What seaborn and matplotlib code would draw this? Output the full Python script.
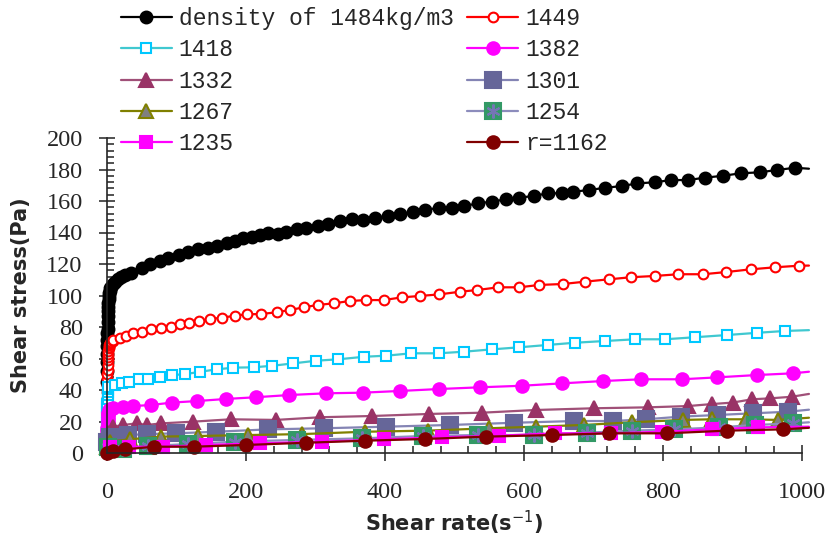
import matplotlib
matplotlib.use('Agg')
import matplotlib.pyplot as plt
import seaborn as sns
from matplotlib.ticker import MultipleLocator
from matplotlib.legend_handler import HandlerTuple

# Data (shear rate in 1/s, shear stress in Pa)
# last point of every list only carries the line, no marker
x_1484 = [0.1, 0.2, 0.3, 0.4, 0.5, 0.6, 0.7, 0.8, 1, 1.2, 1.4, 1.7, 2, 2.5, 3, 3.5, 4, 5, 6, 8,
          11, 16, 20, 26, 35, 50, 62, 76, 88, 103, 117, 131, 146, 158, 172, 184,
          196, 208, 220, 232, 246, 258, 273, 287, 304, 318, 335, 352, 369, 386, 405, 422, 441, 458, 477, 496,
          513, 534, 554, 574, 593, 614, 634, 654, 671, 694, 717, 741, 763, 789, 811, 836, 860, 886, 912, 939,
          964, 990, 1010]
y_1484 = [45, 52, 58, 63, 68, 72, 76, 79, 83, 87, 90, 93, 95, 98, 100, 101.5, 103, 104.5, 105.5, 107,
          108.8, 110.5, 112, 113, 114.5, 117.3, 119.8, 121.9, 123.6, 125.7,
          127.8, 129.5, 130.4, 131.6, 133.1, 134.6, 136.3, 137.3, 138.4, 139.5, 138.9, 140.5, 142, 143, 144.1,
          145.4, 147.3, 148.4, 147.9, 149.4, 150.5, 151.7, 153.2, 154.3, 155.7, 155.7, 156.8, 158.5, 159.6,
          161.1, 162.1, 163.2, 164.9, 164.9, 165.9, 167, 168.4, 169.5, 171.2, 171.9, 173.3, 173.3, 174.8, 176,
          177.6, 178.2, 179.7, 181.1, 180.5]

x_1449 = [0.1, 0.2, 0.3, 0.4, 0.5, 0.6, 0.7, 0.8, 1, 1.2, 1.4, 1.7, 2, 2.5, 3, 3.5, 4, 5, 6, 8,
          9, 18.7, 28, 38, 51, 64, 77.7, 91.5, 105, 118, 133, 148, 166, 184, 201,
          222, 244, 263, 283.5, 303, 326, 349, 373, 398, 424, 450, 478, 508, 533, 563, 593, 622, 656, 688, 723,
          754, 788, 822, 858, 891, 926, 961, 995, 1010]
y_1449 = [25, 30, 35, 39, 43, 47, 50, 53, 56, 59, 61, 63, 65, 66.5, 67.5, 68.5, 69.2, 70, 70.6, 71.2,
          71.7, 73.2, 74.5, 76, 77, 78.5, 79.6, 80.2, 81.7, 82.7, 83.8, 85.1,
          85.9, 87.2, 88, 88.3, 89.3, 90.8, 92.5, 94, 95, 96.5, 97.1, 97.1, 98.8, 99.7, 100.7, 102.4, 103.5,
          105.2, 105.2, 106.7, 107.3, 108.8, 110.3, 111.6, 112.4, 113.5, 113.5, 114.9, 116.6, 117.9, 118.9, 119]

x_1418 = [0.1, 0.2, 0.3, 0.4, 0.5, 0.6, 0.8, 1, 1.3, 1.6, 2, 11.5, 21, 31, 46, 59, 76, 93, 112, 134, 158, 182,
          211, 238, 268, 301, 333, 370, 402, 438, 477, 513, 554, 593, 634, 673, 716, 760, 803, 846, 892, 935,
          976, 1010]
y_1418 = [15, 19, 23, 26, 29, 31, 34, 37, 39, 40.5, 42, 43.2, 44.2, 45.3, 46.8, 46.8, 48, 49.5, 50, 51.6,
          53.1, 54.2, 54.4, 55.4, 56.9, 58.6, 59.5, 61.1, 61.8, 63.3, 63.3, 64.3, 65.8, 67.1, 68.6, 70, 71.1,
          72.2, 72.2, 73.5, 74.9, 76.3, 77.5, 78]

x_1382 = [0.1, 0.2, 0.3, 0.4, 0.5, 0.6, 0.8, 1, 1.3, 1.6, 2, 2.5, 3.5, 5, 9, 22.5, 38, 64, 93, 130, 171, 214,
          262, 315, 368, 422, 477, 536, 597, 654, 714, 768, 827, 877, 935, 987, 1010]
y_1382 = [2, 5, 8, 11, 14, 16, 19, 21, 23, 24.5, 25.5, 26.5, 27.5, 28, 28.4, 29.4, 29.8, 30.5, 32, 33, 34.3,
          35.4, 36.8, 37.9, 38.3, 39.4, 40.6, 41.7, 42.7, 44.2, 45.7, 46.8, 46.8, 48, 49.5, 50.6, 51.6]

x_1332 = [0.5, 2, 9, 23.5, 42.5, 57, 78, 124, 178, 243, 307, 382, 464, 540, 617, 701, 779, 836, 871, 900, 928,
          954, 985, 1010]
y_1332 = [8, 13, 16.7, 17.8, 18.8, 17.8, 18.8, 19.9, 21.4, 21, 22.7, 23.5, 24.8, 25.6, 27.3, 28.4, 29, 29.8,
          31.1, 32, 34.1, 34.7, 35.7, 37.5]

x_1301 = [0.5, 4.3, 30.7, 57, 99, 157, 232, 312, 401, 494, 586, 672, 728, 775, 826, 877, 929, 980, 1010]
y_1301 = [7, 10.4, 11.4, 12, 12.5, 13.5, 15, 15.7, 16.7, 17.8, 19.2, 20.3, 20.3, 21.4, 23.1, 24.1, 25.2, 26.2,
          27.5]

x_1267 = [0.5, 4.3, 33, 78, 131, 203, 280, 371, 462, 549, 617, 686, 755, 829, 870, 919, 966, 1010]
y_1267 = [4, 7.2, 8.7, 10.4, 10.8, 11.4, 12, 13.5, 14.2, 15.7, 16.7, 17.8, 19.5, 21, 21.4, 21.4, 21, 22.4]

x_1254 = [2, 23.5, 59, 117, 184, 273, 367, 455, 534, 614, 690, 756, 816, 881, 932, 987, 1010]
y_1254 = [4, 2.3, 4.4, 5.7, 7.2, 8.3, 9.3, 10.8, 11.4, 11.4, 12.9, 14.2, 15, 16.3, 17.8, 18.8, 19.5]

x_1235 = [4.3, 31, 81, 142, 220, 309, 398, 482, 564, 645, 725, 798, 870, 937, 1010]
y_1235 = [4, 4, 4, 5.1, 6.2, 7.2, 8.7, 10, 11, 12.5, 12.5, 13.5, 15, 16.3, 16.7]

x_1162 = [0, 9, 26, 67, 125, 200, 286, 371, 458, 546, 640, 723, 806, 892, 972, 1010]
y_1162 = [0, 1, 2.3, 4, 4, 5.1, 6.5, 7.8, 8.9, 10.4, 11.4, 12.5, 12.5, 14.2, 15, 16]

sns.set_style('ticks')
plt.rcParams['font.family'] = ['Liberation Serif', 'DejaVu Serif']

fig = plt.figure(figsize=(8.32, 5.40), dpi=100)
ax = fig.add_axes([107 / 832, 1 - 453 / 540, 695 / 832, 315 / 540])

# label, x, y, line colour, marker, size, face, edge
series = [
    ('density of 1484kg/m3', x_1484, y_1484, '#000000', 'o', 8.5, '#000000', '#000000'),
    ('1449', x_1449, y_1449, '#FF0000', 'o', 7, 'white', '#FF0000'),
    ('1418', x_1418, y_1418, '#40C8D0', 's', 7.5, 'white', '#00C8FF'),
    ('1382', x_1382, y_1382, '#FF00FF', 'o', 9, '#FF00FF', '#FF00FF'),
    ('1332', x_1332, y_1332, '#A05078', '^', 10.5, '#993366', '#993366'),
    ('1301', x_1301, y_1301, '#8484B4', 's', 12, '#666699', '#666699'),
    ('1267', x_1267, y_1267, '#808000', '^', 10.5, '#808080', '#808000'),
    ('1254', x_1254, y_1254, '#8C8CBC', 's', 12, '#339966', '#339966'),
    ('1235', x_1235, y_1235, '#FF00FF', 's', 9, '#FF00FF', '#FF00FF'),
    ('r=1162', x_1162, y_1162, '#800000', 'o', 9, '#800000', '#800000'),
]

handles = {}
for label, xs, ys, lc, mk, ms, fc, ec in series:
    n_before = len(ax.lines)
    sns.lineplot(x=xs, y=ys, ax=ax, color=lc, lw=1.6, marker=mk, markersize=ms,
                 markerfacecolor=fc, markeredgecolor=ec, markeredgewidth=1.5,
                 markevery=slice(0, len(xs) - 1), sort=False, estimator=None,
                 label=label, clip_on=False)
    line = ax.lines[n_before]
    handles[label] = line
    if label == '1254':
        # the star drawn over the green squares
        star, = ax.plot(xs[:-1], ys[:-1], ls='none', marker=(6, 2, 0), markersize=10,
                        markeredgecolor='#7575B5', markeredgewidth=1.5, clip_on=False)
        handles[label] = (line, star)

if ax.get_legend() is not None:
    ax.get_legend().remove()

ax.set_xlim(0, 1000)
ax.set_ylim(0, 200)
ax.set_xticks(range(0, 1001, 200))
ax.set_yticks(range(0, 201, 20))
ax.xaxis.set_minor_locator(MultipleLocator(40))
ax.yaxis.set_minor_locator(MultipleLocator(4))
ax.tick_params(which='major', direction='inout', length=12, width=1.2, labelsize=17.5, color='#333333')
ax.tick_params(axis='x', which='major', pad=15)
ax.tick_params(axis='y', which='major', pad=11.5)
ax.tick_params(which='minor', direction='in', length=5, width=1.2, color='#333333')
sns.despine(ax=ax)
for sp in ['left', 'bottom']:
    ax.spines[sp].set_linewidth(1.2)

ax.set_xlabel('Shear rate(s$^{-1}$)', fontsize=15, fontweight='bold', family='DejaVu Sans', labelpad=4)
ax.set_ylabel('Shear stress(Pa)', fontsize=15, fontweight='bold', family='DejaVu Sans', labelpad=11)

order = ['density of 1484kg/m3', '1418', '1332', '1267', '1235',
         '1449', '1382', '1301', '1254', 'r=1162']
fig.legend([handles[k] for k in order], order, ncol=2, loc='upper left',
           bbox_to_anchor=(121 / 832, 1 - 7 / 540), frameon=False,
           prop={'family': 'Liberation Mono', 'size': 16.6},
           handlelength=2.2, handletextpad=0.3, columnspacing=0.6, labelspacing=0.36,
           borderpad=0, borderaxespad=0,
           handler_map={tuple: HandlerTuple(ndivide=1)})

fig.savefig('out.png', dpi=100)
